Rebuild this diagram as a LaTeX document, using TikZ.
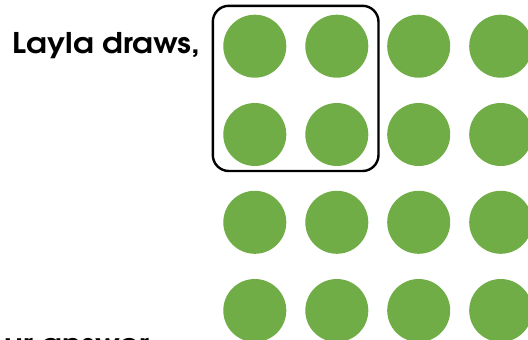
\documentclass[tikz,border=0pt]{standalone}
\usepackage{fontspec}
\newfontfamily\advfont[FakeStretch=1.1]{texgyreadventor-bold.otf}
\definecolor{dotgreen}{HTML}{70AD47}
\begin{document}
\begin{tikzpicture}[x=1pt,y=-1pt,
  dot/.style={circle,fill=dotgreen,minimum size=63pt,inner sep=0pt},
  label/.style={inner sep=0pt,font=\advfont\fontsize{28.5pt}{30pt}\selectfont,text=black},
  groupbox/.style={draw=black,line width=2.4pt,rounded corners=16pt,minimum width=165.7pt,minimum height=165.2pt,inner sep=0pt}]
\useasboundingbox (0,0) rectangle (528,340);
\foreach \c/\x in {1/254.8,2/336.8,3/418.7,4/500.7}{
  \foreach \r/\y in {1/46.2,2/134.5,3/222.3,4/310.5}{
    \node[dot] (c\r\c) at (\x,\y) {};
  }
}
\node[groupbox] (group) at (295.65,88.4) {};
\node[label,anchor=base west] (title) at (12.7,53.3) {Layla draws,};
\node[label,anchor=base west] (answer) at (4,354.5) {ur answer};
\end{tikzpicture}
\end{document}
